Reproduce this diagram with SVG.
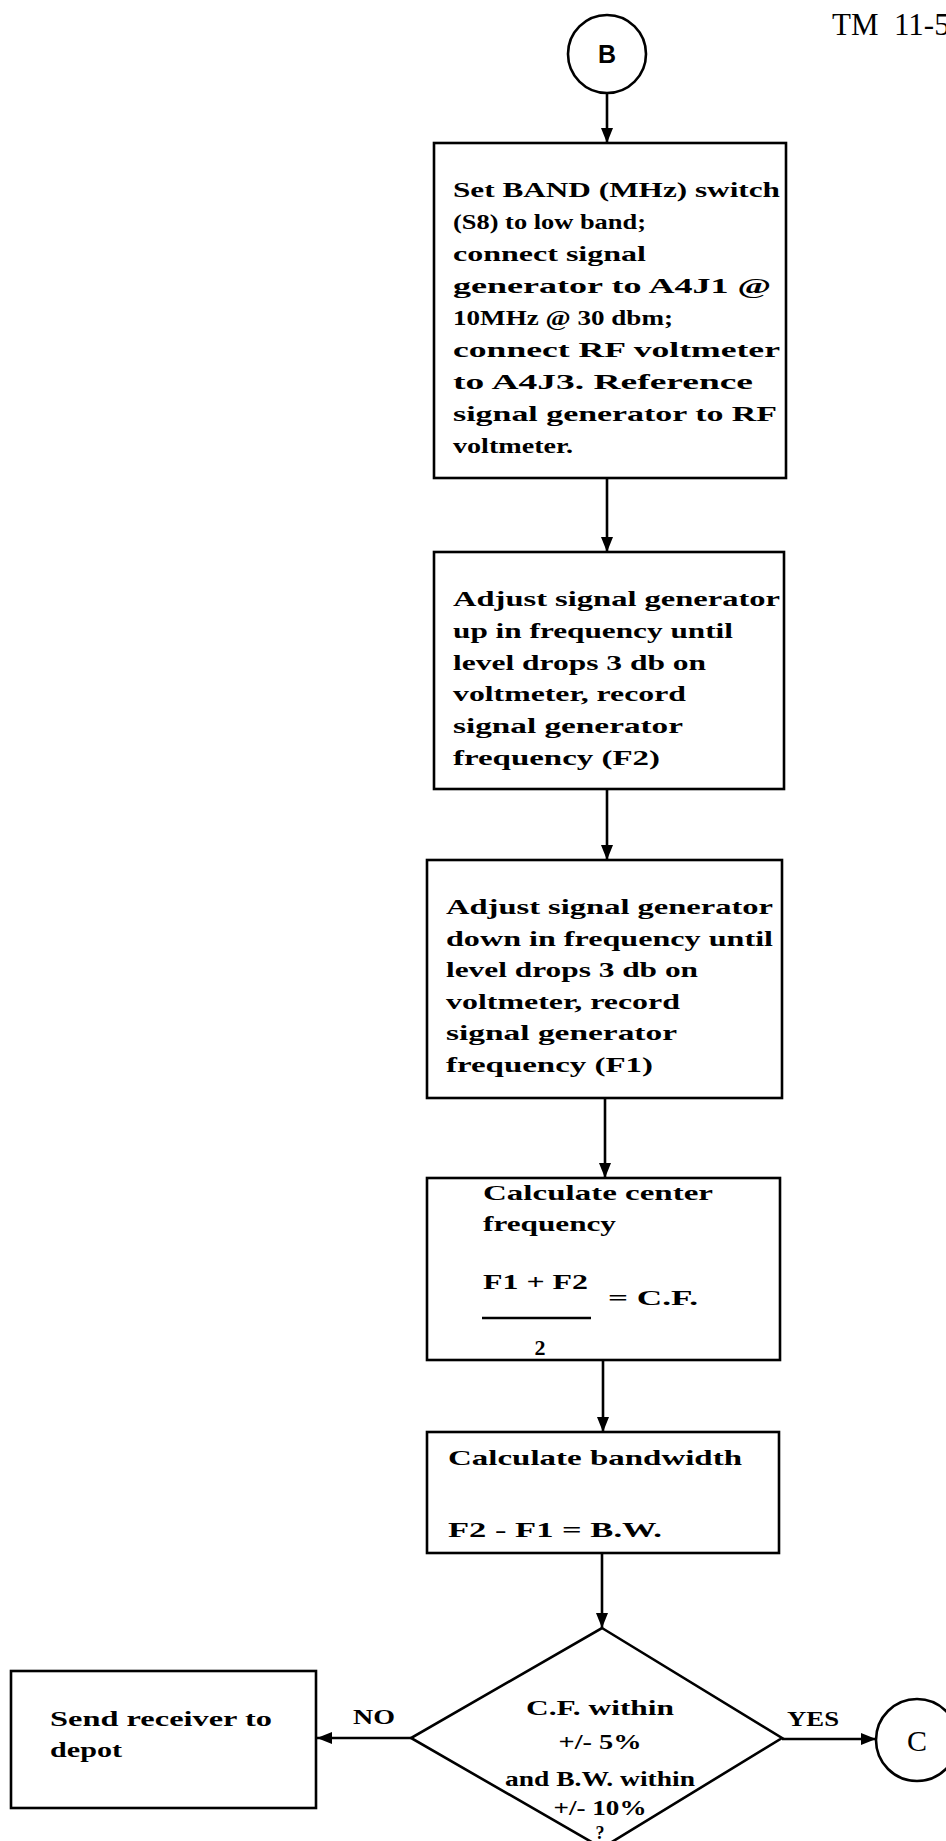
<svg xmlns="http://www.w3.org/2000/svg" width="946" height="1841" viewBox="0 0 946 1841">
<defs>
<marker id="ah" markerUnits="userSpaceOnUse" markerWidth="16" markerHeight="12" refX="15" refY="6" orient="auto">
<path d="M0,0 L15,6 L0,12 z" fill="#000"/>
</marker>
<style>
.box{fill:#fff;stroke:#000;stroke-width:2.6}
.ln{fill:none;stroke:#000;stroke-width:2.6}
.t{font-family:"Liberation Serif",serif;font-weight:bold;font-size:22px;fill:#000}
.d{font-family:"Liberation Serif",serif;font-weight:bold;font-size:22px;fill:#000;text-anchor:middle}
.hdr{font-family:"Liberation Serif",serif;font-size:31px;fill:#000}
</style>
</defs>
<rect width="946" height="1841" fill="#fff"/>
<text class="hdr" x="832" y="35" xml:space="preserve">TM  11-5</text>

<g id="connectors">
<line class="ln" x1="607" y1="93" x2="607" y2="143" marker-end="url(#ah)"/>
<line class="ln" x1="607" y1="478" x2="607" y2="552" marker-end="url(#ah)"/>
<line class="ln" x1="607" y1="789" x2="607" y2="860" marker-end="url(#ah)"/>
<line class="ln" x1="605" y1="1098" x2="605" y2="1178" marker-end="url(#ah)"/>
<line class="ln" x1="603" y1="1360" x2="603" y2="1432" marker-end="url(#ah)"/>
<line class="ln" x1="602" y1="1553" x2="602" y2="1628" marker-end="url(#ah)"/>
<line class="ln" x1="411" y1="1738" x2="317" y2="1738" marker-end="url(#ah)"/>
<line class="ln" x1="782" y1="1739" x2="876" y2="1739" marker-end="url(#ah)"/>
<text class="t" x="353" y="1724" textLength="42" lengthAdjust="spacingAndGlyphs">NO</text>
<text class="t" x="787" y="1726" textLength="52" lengthAdjust="spacingAndGlyphs">YES</text>
</g>

<g id="nodeB">
<circle cx="607" cy="54" r="39" fill="#fff" stroke="#000" stroke-width="2.6"/>
<text x="607" y="63" text-anchor="middle" font-family="Liberation Sans, sans-serif" font-weight="bold" font-size="25">B</text>
</g>

<g id="box1">
<rect class="box" x="434" y="143" width="352" height="335"/>
<text class="t" x="453" y="197" textLength="327" lengthAdjust="spacingAndGlyphs">Set BAND (MHz) switch</text>
<text class="t" x="453" y="229" textLength="193" lengthAdjust="spacingAndGlyphs">(S8) to low band;</text>
<text class="t" x="453" y="261" textLength="193" lengthAdjust="spacingAndGlyphs">connect signal</text>
<text class="t" x="453" y="293" textLength="318" lengthAdjust="spacingAndGlyphs">generator to A4J1 @</text>
<text class="t" x="453" y="325" textLength="220" lengthAdjust="spacingAndGlyphs">10MHz @ 30 dbm;</text>
<text class="t" x="453" y="357" textLength="327" lengthAdjust="spacingAndGlyphs">connect RF voltmeter</text>
<text class="t" x="453" y="389" textLength="300" lengthAdjust="spacingAndGlyphs">to A4J3. Reference</text>
<text class="t" x="453" y="421" textLength="324" lengthAdjust="spacingAndGlyphs">signal generator to RF</text>
<text class="t" x="453" y="453" textLength="120" lengthAdjust="spacingAndGlyphs">voltmeter.</text>
</g>

<g id="box2">
<rect class="box" x="434" y="552" width="350" height="237"/>
<text class="t" x="453" y="606" textLength="327" lengthAdjust="spacingAndGlyphs">Adjust signal generator</text>
<text class="t" x="453" y="638" textLength="280" lengthAdjust="spacingAndGlyphs">up in frequency until</text>
<text class="t" x="453" y="670" textLength="253" lengthAdjust="spacingAndGlyphs">level drops 3 db on</text>
<text class="t" x="453" y="701" textLength="233" lengthAdjust="spacingAndGlyphs">voltmeter, record</text>
<text class="t" x="453" y="733" textLength="230" lengthAdjust="spacingAndGlyphs">signal generator</text>
<text class="t" x="453" y="765" textLength="207" lengthAdjust="spacingAndGlyphs">frequency (F2)</text>
</g>

<g id="box3">
<rect class="box" x="427" y="860" width="355" height="238"/>
<text class="t" x="446" y="914" textLength="327" lengthAdjust="spacingAndGlyphs">Adjust signal generator</text>
<text class="t" x="446" y="946" textLength="327" lengthAdjust="spacingAndGlyphs">down in frequency until</text>
<text class="t" x="446" y="977" textLength="252" lengthAdjust="spacingAndGlyphs">level drops 3 db on</text>
<text class="t" x="446" y="1009" textLength="234" lengthAdjust="spacingAndGlyphs">voltmeter, record</text>
<text class="t" x="446" y="1040" textLength="231" lengthAdjust="spacingAndGlyphs">signal generator</text>
<text class="t" x="446" y="1072" textLength="207" lengthAdjust="spacingAndGlyphs">frequency (F1)</text>
</g>

<g id="box4">
<rect class="box" x="427" y="1178" width="353" height="182"/>
<text class="t" x="483" y="1200" textLength="230" lengthAdjust="spacingAndGlyphs">Calculate center</text>
<text class="t" x="483" y="1231" textLength="133" lengthAdjust="spacingAndGlyphs">frequency</text>
<text class="t" x="483" y="1289" textLength="105" lengthAdjust="spacingAndGlyphs">F1 + F2</text>
<line class="ln" x1="482" y1="1318" x2="591" y2="1318" stroke-width="2"/>
<text class="t" x="608" y="1305" textLength="90" lengthAdjust="spacingAndGlyphs">= C.F.</text>
<text class="t" x="540" y="1355" text-anchor="middle">2</text>
</g>

<g id="box5">
<rect class="box" x="427" y="1432" width="352" height="121"/>
<text class="t" x="448" y="1465" textLength="294" lengthAdjust="spacingAndGlyphs">Calculate bandwidth</text>
<text class="t" x="448" y="1537" textLength="214" lengthAdjust="spacingAndGlyphs">F2 - F1 = B.W.</text>
</g>

<g id="decision">
<polygon points="602,1628 782,1738 602,1848 411,1738" fill="#fff" stroke="#000" stroke-width="2.6"/>
<text class="d" x="600" y="1715" textLength="148" lengthAdjust="spacingAndGlyphs">C.F. within</text>
<text class="d" x="600" y="1749" textLength="83" lengthAdjust="spacingAndGlyphs">+/- 5%</text>
<text class="d" x="600" y="1786" textLength="190" lengthAdjust="spacingAndGlyphs">and B.W. within</text>
<text class="d" x="600" y="1815" textLength="93" lengthAdjust="spacingAndGlyphs">+/- 10%</text>
<text class="d" x="600" y="1839" style="font-size:18px">?</text>
</g>

<g id="depot">
<rect class="box" x="11" y="1671" width="305" height="137"/>
<text class="t" x="50" y="1726" textLength="222" lengthAdjust="spacingAndGlyphs">Send receiver to</text>
<text class="t" x="50" y="1757" textLength="72" lengthAdjust="spacingAndGlyphs">depot</text>
</g>

<g id="nodeC">
<circle cx="917" cy="1740" r="41" fill="#fff" stroke="#000" stroke-width="2.6"/>
<text x="917" y="1751" text-anchor="middle" font-family="Liberation Serif, serif" font-size="30">C</text>
</g>
</svg>
